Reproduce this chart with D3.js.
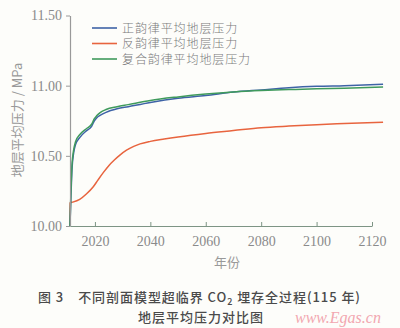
<!DOCTYPE html>
<html>
<head>
<meta charset="utf-8">
<script src="https://cdn.jsdelivr.net/npm/d3@7"></script>
<style>
  html, body { margin: 0; padding: 0; background: #fdfdfa; }
  svg { display: block; }
</style>
</head>
<body>
<script>
// Average formation pressure for three profile models, year vs MPa
const seriesNames = ["正韵律平均地层压力", "反韵律平均地层压力", "复合韵律平均地层压力"];
const seriesColors = ["#3e63a6", "#e8643e", "#3f9a5c"];

const yearsPos = [2011, 2011.3, 2011.7, 2012.3, 2013, 2014.5, 2017, 2018.8, 2019.8, 2020.6, 2022, 2024, 2028, 2032, 2040, 2050, 2060, 2070, 2080, 2090, 2100, 2110, 2124];
const positiveVals = [10.00, 10.20, 10.40, 10.52, 10.58, 10.63, 10.68, 10.71, 10.75, 10.77, 10.79, 10.81, 10.835, 10.85, 10.88, 10.91, 10.93, 10.955, 10.97, 10.985, 10.995, 11.00, 11.01];

const yearsRev = [2011, 2011.05, 2012, 2014.5, 2017, 2019.4, 2021, 2023, 2025, 2027, 2029, 2031.4, 2034, 2036.3, 2040, 2045, 2050, 2060, 2070, 2080, 2090, 2100, 2110, 2124];
const reverseVals = [10.00, 10.165, 10.17, 10.19, 10.23, 10.28, 10.325, 10.38, 10.43, 10.47, 10.505, 10.54, 10.567, 10.585, 10.603, 10.62, 10.635, 10.66, 10.68, 10.70, 10.712, 10.722, 10.73, 10.74];

const yearsComp = [2011, 2011.3, 2011.7, 2012.3, 2013, 2014.5, 2017, 2018.8, 2019.8, 2020.6, 2022, 2024, 2028, 2032, 2040, 2050, 2060, 2070, 2080, 2090, 2100, 2110, 2124];
const compositeVals = [10.00, 10.22, 10.43, 10.54, 10.60, 10.65, 10.695, 10.725, 10.765, 10.785, 10.81, 10.83, 10.85, 10.865, 10.895, 10.92, 10.94, 10.955, 10.965, 10.972, 10.978, 10.982, 10.99];

const xTicks = [2020, 2040, 2060, 2080, 2100, 2120];
const yTicks = [10.00, 10.50, 11.00, 11.50];

const W = 400, H = 328;
const svg = d3.select("body").append("svg").attr("width", W).attr("height", H);
svg.append("rect").attr("width", W).attr("height", H).attr("fill", "#fdfdfa");

const x = d3.scaleLinear().domain([2011, 2120]).range([70, 372]);
const y = d3.scaleLinear().domain([10, 11.5]).range([226, 15.5]);

const serif = "'Liberation Serif', 'DejaVu Serif', serif";
const cjk = "'Noto Sans CJK SC', 'Noto Sans', sans-serif";
const grey = "#8a8a8a";

// curves
const data = [
  yearsPos.map((t, i) => [t, positiveVals[i]]),
  yearsRev.map((t, i) => [t, reverseVals[i]]),
  yearsComp.map((t, i) => [t, compositeVals[i]])
];
const line = d3.line().x(d => x(d[0])).y(d => y(d[1])).curve(d3.curveMonotoneX);
const drawOrder = [1, 0, 2];
drawOrder.forEach(k => {
  svg.append("path")
    .attr("d", line(data[k]))
    .attr("fill", "none")
    .attr("stroke", seriesColors[k])
    .attr("stroke-width", 1.5);
});

// y axis
const yAxis = svg.append("g").attr("transform", "translate(70,0)")
  .call(d3.axisLeft(y).tickValues(yTicks).tickFormat(d3.format(".2f")).tickSize(4).tickSizeOuter(0));
yAxis.select(".domain").attr("stroke", "#999").attr("stroke-width", 1.2);
yAxis.selectAll(".tick line").attr("stroke", "#999");
yAxis.selectAll(".tick text").attr("fill", grey).attr("font-family", serif).attr("font-size", 14).attr("x", -8);

// x axis with ticks pointing inward
const xAxis = svg.append("g").attr("transform", "translate(0,226)")
  .call(d3.axisBottom(x).tickValues(xTicks).tickFormat(d3.format("d")).tickSize(-4).tickSizeOuter(0));
xAxis.select(".domain").attr("stroke", "#7d9484").attr("stroke-width", 1.2);
xAxis.selectAll(".tick line").attr("stroke", "#7d9484");
xAxis.selectAll(".tick text").attr("fill", grey).attr("font-family", serif).attr("font-size", 14).attr("y", 10);

// axis titles
svg.append("text")
  .attr("transform", "translate(22,120) rotate(-90)")
  .attr("text-anchor", "middle")
  .attr("fill", "#999")
  .attr("font-family", cjk)
  .attr("font-size", 13)
  .text("地层平均压力 / MPa");

svg.append("text")
  .attr("x", 227).attr("y", 267)
  .attr("text-anchor", "middle")
  .attr("fill", "#999")
  .attr("font-family", cjk)
  .attr("font-size", 13)
  .text("年份");

// legend
const legY = [28, 43.5, 59];
seriesNames.forEach((name, i) => {
  svg.append("line")
    .attr("x1", 92).attr("x2", 117).attr("y1", legY[i]).attr("y2", legY[i])
    .attr("stroke", seriesColors[i]).attr("stroke-width", 1.6);
  svg.append("text")
    .attr("x", 122).attr("y", legY[i] + 4.5)
    .attr("fill", "#7a7a7a")
    .attr("font-family", cjk)
    .attr("font-size", 12)
    .attr("letter-spacing", 0.9)
    .attr("font-weight", 300)
    .text(name);
});

// caption
const cap1 = svg.append("text")
  .attr("x", 38).attr("y", 302)
  .attr("fill", "#4a4a4a")
  .attr("font-family", cjk)
  .attr("font-size", 13)
  .attr("font-weight", 500)
  .attr("textLength", 322)
  .attr("lengthAdjust", "spacing");
cap1.append("tspan").text("图 3　不同剖面模型超临界 CO");
cap1.append("tspan").attr("font-size", 9).attr("dy", 3).text("2");
cap1.append("tspan").attr("dy", -3).text(" 埋存全过程(115 年)");

svg.append("text")
  .attr("x", 138).attr("y", 322)
  .attr("fill", "#4a4a4a")
  .attr("font-family", cjk)
  .attr("font-size", 13)
  .attr("font-weight", 500)
  .attr("textLength", 125)
  .attr("lengthAdjust", "spacing")
  .text("地层平均压力对比图");

svg.append("text")
  .attr("x", 295).attr("y", 323)
  .attr("fill", "#f2a7b0")
  .attr("font-family", serif)
  .attr("font-style", "italic")
  .attr("font-size", 16)
  .text("www.Egas.cn");
</script>
</body>
</html>
